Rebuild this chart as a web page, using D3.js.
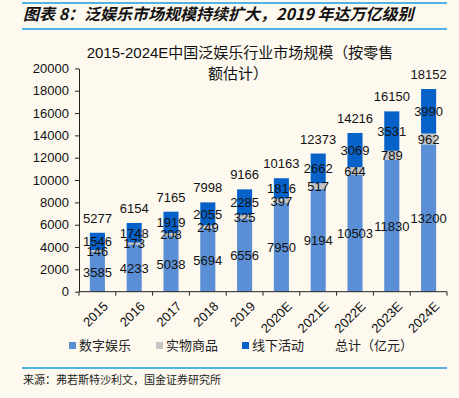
<!DOCTYPE html>
<html>
<head>
<meta charset="utf-8">
<script src="https://cdn.jsdelivr.net/npm/d3@7"></script>
<style>
body { margin: 0; background: #fdf9ef; }
svg { display: block; }
</style>
</head>
<body>
<div class="graphic"></div>
<script>
var years = ['2015', '2016', '2017', '2018', '2019', '2020E', '2021E', '2022E', '2023E', '2024E'];
var digital = [3585, 4233, 5038, 5694, 6556, 7950, 9194, 10503, 11830, 13200];
var physical = [146, 173, 208, 249, 325, 397, 517, 644, 789, 962];
var offline = [1546, 1748, 1919, 2055, 2285, 1816, 2662, 3069, 3531, 3990];
var totals = [5277, 6154, 7165, 7998, 9166, 10163, 12373, 14216, 16150, 18152];
var yTicks = [0, 2000, 4000, 6000, 8000, 10000, 12000, 14000, 16000, 18000, 20000];
var seriesNames = ['数字娱乐', '实物商品', '线下活动'];
var colors = ['#5a8fd5', '#c4c4c4', '#0662c9'];

var width = 459;
var height = 398;
var font = '"Liberation Sans", Arial, "Noto Sans CJK SC", sans-serif';
var cjk = '"Noto Sans CJK SC", sans-serif';

var svg = d3.select('.graphic').append('svg')
	.attr('width', width)
	.attr('height', height)
	.style('background', '#fdf9ef');

// header
svg.append('line').attr('x1', 22).attr('x2', 447).attr('y1', 3).attr('y2', 3)
	.attr('stroke', '#4fb3e6').attr('stroke-width', 2);
svg.append('text')
	.attr('x', 23).attr('y', 20)
	.style('font-family', cjk).style('font-size', '16px')
	.style('font-style', 'italic').style('font-weight', 'bold')
	.attr('fill', '#111')
	.text('图表 8：泛娱乐市场规模持续扩大，2019 年达万亿级别');
svg.append('line').attr('x1', 22).attr('x2', 447).attr('y1', 29).attr('y2', 29)
	.attr('stroke', '#4fb3e6').attr('stroke-width', 2);

// chart title
var title = svg.append('text')
	.attr('text-anchor', 'middle')
	.style('font-family', font).style('font-size', '15px')
	.attr('fill', '#111');
title.append('tspan').attr('x', 240).attr('y', 58).text('2015-2024E中国泛娱乐行业市场规模（按零售');
title.append('tspan').attr('x', 238).attr('y', 79).text('额估计）');

var margin = { left: 79, right: 447, top: 68.4, bottom: 291.7 };

var x = d3.scaleBand()
	.domain(years)
	.range([margin.left, margin.right])
	.paddingInner(0.59)
	.paddingOuter(0.295);

var y = d3.scaleLinear()
	.domain([0, 20000])
	.range([margin.bottom, margin.top]);

var stackData = years.map(function(yr, i) {
	return { year: yr, d0: digital[i], d1: physical[i], d2: offline[i], total: totals[i] };
});
var stack = d3.stack().keys(['d0', 'd1', 'd2']);
var layers = stack(stackData);

// y axis
var yAxis = svg.append('g')
	.attr('transform', 'translate(' + margin.left + ',0)')
	.call(d3.axisLeft(y).tickValues(yTicks).tickFormat(d3.format('d'))
		.tickSize(4).tickSizeOuter(0).tickPadding(6));
yAxis.select('.domain').attr('stroke', '#222');
yAxis.selectAll('line').attr('stroke', '#222');
yAxis.selectAll('text').style('font-family', font).style('font-size', '13px').attr('fill', '#111');

// bars
svg.selectAll('g.layer')
	.data(layers)
	.enter()
	.append('g')
	.attr('class', 'layer')
	.attr('fill', function(d, i) { return colors[i]; })
	.selectAll('rect')
	.data(function(d) { return d; })
	.enter()
	.append('rect')
	.attr('x', function(d) { return x(d.data.year); })
	.attr('width', x.bandwidth())
	.attr('y', function(d) { return y(d[1]); })
	.attr('height', function(d) { return y(d[0]) - y(d[1]); });

// x axis with ticks at band boundaries
var xAxisG = svg.append('g').attr('transform', 'translate(0,' + margin.bottom + ')');
xAxisG.append('line')
	.attr('x1', margin.left).attr('x2', margin.right)
	.attr('stroke', '#222');
var step = x.step();
var bounds = d3.range(years.length + 1).map(function(i) { return margin.left + i * step; });
xAxisG.selectAll('line.tick')
	.data(bounds)
	.enter()
	.append('line')
	.attr('class', 'tick')
	.attr('x1', function(d) { return d; }).attr('x2', function(d) { return d; })
	.attr('y1', 0).attr('y2', 4)
	.attr('stroke', '#222');
xAxisG.selectAll('text')
	.data(years)
	.enter()
	.append('text')
	.attr('text-anchor', 'end')
	.attr('transform', function(d) {
		return 'translate(' + (x(d) + x.bandwidth() / 2 + 5) + ',9) rotate(-45)';
	})
	.attr('dy', '0.7em')
	.style('font-family', font).style('font-size', '13px')
	.attr('fill', '#111')
	.text(function(d) { return d; });

// value labels
var labelStyle = function(sel) {
	sel.attr('text-anchor', 'middle')
		.style('font-family', font).style('font-size', '13px')
		.attr('fill', '#111');
};

svg.append('g').selectAll('text')
	.data(layers[0])
	.enter().append('text')
	.call(labelStyle)
	.attr('x', function(d) { return x(d.data.year) + x.bandwidth() / 2; })
	.attr('y', function(d) { return y((d[0] + d[1]) / 2) + 5; })
	.text(function(d) { return d.data.d0; });

svg.append('g').selectAll('text')
	.data(layers[1])
	.enter().append('text')
	.call(labelStyle)
	.attr('x', function(d) { return x(d.data.year) + x.bandwidth() / 2; })
	.attr('y', function(d) { return y((d[0] + d[1]) / 2) + 5; })
	.text(function(d) { return d.data.d1; });

svg.append('g').selectAll('text')
	.data(layers[2])
	.enter().append('text')
	.call(labelStyle)
	.attr('x', function(d) { return x(d.data.year) + x.bandwidth() / 2; })
	.attr('y', function(d) { return y((d[0] + d[1]) / 2) + 5; })
	.text(function(d) { return d.data.d2; });

svg.append('g').selectAll('text')
	.data(stackData)
	.enter().append('text')
	.call(labelStyle)
	.attr('x', function(d) { return x(d.year) + x.bandwidth() / 2; })
	.attr('y', function(d) { return y(d.total) - 10; })
	.text(function(d) { return d.total; });

// legend
var legendX = [69, 156, 242];
var legend = svg.append('g');
seriesNames.forEach(function(name, i) {
	legend.append('rect')
		.attr('x', legendX[i]).attr('y', 342)
		.attr('width', 7).attr('height', 7)
		.attr('fill', colors[i]);
	legend.append('text')
		.attr('x', legendX[i] + 10).attr('y', 350)
		.style('font-family', cjk).style('font-size', '13px')
		.attr('fill', '#222')
		.text(name);
});
legend.append('text')
	.attr('x', 335).attr('y', 350)
	.style('font-family', cjk).style('font-size', '13px')
	.attr('fill', '#222')
	.text('总计（亿元）');

// footer
svg.append('line').attr('x1', 22).attr('x2', 447).attr('y1', 368).attr('y2', 368)
	.attr('stroke', '#4fb3e6').attr('stroke-width', 2);
svg.append('text')
	.attr('x', 23).attr('y', 384)
	.style('font-family', cjk).style('font-size', '11px')
	.attr('fill', '#222')
	.text('来源：弗若斯特沙利文，国金证券研究所');
</script>
</body>
</html>
